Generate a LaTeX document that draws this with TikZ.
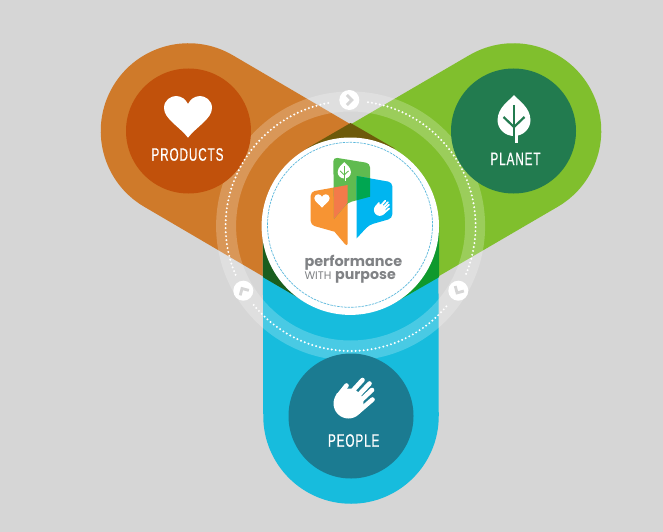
\documentclass[tikz,border=0pt]{standalone}
\usepackage{fontspec}
\newfontfamily\labelfont[FakeStretch=0.65,LetterSpace=5,FakeBold=0.6]{Liberation Sans}
\newfontfamily\logofont{Poppins}
\usetikzlibrary{calc}

\definecolor{canvasgray}{HTML}{D6D6D6}
\definecolor{prodband}{HTML}{CF7A2A}
\definecolor{prodcore}{HTML}{C1510B}
\definecolor{planband}{HTML}{80BF2D}
\definecolor{plancore}{HTML}{227B4F}
\definecolor{peopband}{HTML}{17BCDD}
\definecolor{peopcore}{HTML}{1B7B91}
\definecolor{olivewedge}{HTML}{6D5A0A}
\definecolor{leftwedge}{HTML}{1A5E1E}
\definecolor{rightwedge}{HTML}{0F992D}
\definecolor{logogray}{HTML}{808285}
\definecolor{logoorange}{HTML}{F79433}
\definecolor{logogreen}{HTML}{60BB50}
\definecolor{logoblue}{HTML}{00B5F0}
\definecolor{logored}{HTML}{F37A4A}
\definecolor{logoteal}{HTML}{00A651}
\definecolor{dashblue}{HTML}{5BB8DC}

\tikzset{
  band/.style={line width=175.5pt, line cap=round},
  ringdots/.style={white, line width=2.2pt, line cap=round, dash pattern=on 0pt off 4pt},
  iconline/.style={line cap=round},
  capslabel/.style={text=white, anchor=base, inner sep=0pt, font=\labelfont\fontsize{18}{18}\selectfont},
  logotext/.style={text=logogray, anchor=base west, inner sep=0pt, text depth=0pt},
  bubble/.style={rounded corners=4pt}
}

\newcommand{\heartmark}[3]{%
  \fill[white, shift={(#1,#2)}, scale=#3] (0,20.7)
    .. controls (-8,10) and (-24,2) .. (-24,-9)
    .. controls (-24,-17) and (-17,-21) .. (-12,-21)
    .. controls (-6,-21) and (-2,-17) .. (0,-13)
    .. controls (2,-17) and (6,-21) .. (12,-21)
    .. controls (17,-21) and (24,-17) .. (24,-9)
    .. controls (24,2) and (8,10) .. (0,20.7) -- cycle;
}
\newcommand{\leafmark}[4]{%
  \begin{scope}[shift={(#1,#2)}, scale=#3]
    \fill[white] (0,-24)
      .. controls (5,-18) and (16,-12) .. (16.5,1)
      .. controls (16.5,10) and (9,17) .. (0,17)
      .. controls (-9,17) and (-16.5,10) .. (-16.5,1)
      .. controls (-16,-12) and (-5,-18) .. (0,-24) -- cycle;
    \draw[white, line width=#3*3pt] (2.5,15) -- (2.5,24);
    \draw[#4, line width=#3*2.2pt] (0,-14) -- (0,17);
    \draw[#4, line width=#3*2.2pt] (-10.5,-2) -- (0,8) -- (10.5,-2);
  \end{scope}
}
\newcommand{\handmark}[3]{%
  \begin{scope}[shift={(#1,#2)}, scale=#3]
    \fill[white] (-6.5,8.5) circle[radius=15];
    \fill[white] (-21,6) -- (-18,-2) -- (-6,0) -- (5,8) -- (6,16) -- (2,20) -- cycle;
    \draw[white, iconline, line width=#3*4.6pt] (-16,0) -- (-8.5,-9.5);
    \draw[white, iconline, line width=#3*4.6pt] (-8,2) -- (7.5,-15);
    \draw[white, iconline, line width=#3*4.6pt] (-2,6) -- (14.5,-11.5);
    \draw[white, iconline, line width=#3*4.6pt] (1,10) -- (17,-5);
    \draw[white, iconline, line width=#3*4.6pt] (3,17) -- (17.5,4.5);
  \end{scope}
}
\newcommand{\chevronmark}[3]{%
  \draw[canvasgray, line width=2.8pt, shift={(#1,#2)}, rotate=#3] (-2.5,-5) -- (2.5,0) -- (-2.5,5);
}

\begin{document}
\begin{tikzpicture}[x=1pt,y=-1pt]

        % Canvas
        \fill[canvasgray] (0,0) rectangle (663,532);
        \useasboundingbox (0,0) rectangle (663,532);

        % Centres
        \coordinate (hub) at (350.6,226);
        \coordinate (prodhub) at (188.5,131);
        \coordinate (planhub) at (513.5,131);
        \coordinate (peophub) at (351,416);

        % Bands
        \draw[band, prodband] (prodhub) -- (hub);
        \draw[band, planband] (planhub) -- (hub);
        \draw[band, peopband] (peophub) -- (hub);

        % Overlaps
        \fill[olivewedge] (350.6,123) -- (306.4,148.6) -- (394.8,148.6) -- cycle;
        \fill[leftwedge] (263,277.2) -- (263,226) -- (306.7,302.7) -- cycle;
        \fill[rightwedge] (439,277.2) -- (439,226) -- (394.8,302.7) -- cycle;

        % Ring
        \draw[white, opacity=0.22, line width=20pt] (hub) circle[radius=124.5];

        % Core circles
        \fill[prodcore] (prodhub) circle[radius=62.5];
        \fill[plancore] (planhub) circle[radius=62.5];
        \fill[peopcore] (peophub) circle[radius=62.5];

        % Dots
        \draw[ringdots] ($(hub)+(-82:125)$) arc[start angle=-82, end angle=24, radius=125];
        \draw[ringdots] ($(hub)+(40:125)$) arc[start angle=40, end angle=142, radius=125];
        \draw[ringdots] ($(hub)+(157:125)$) arc[start angle=157, end angle=261, radius=125];

        % Turn marks
        \foreach \px/\py/\turn in {349.3/100/0, 458.3/290.7/-120, 243.3/290.7/-240}
        {
          \fill[white] (\px,\py) circle[radius=10];
          \chevronmark{\px}{\py}{\turn}
        }

        % Band icons and labels
        \heartmark{188}{117}{1}
        \leafmark{514}{119}{1}{plancore}
        \handmark{355}{395}{1}
        \node[capslabel] (prodlabel) at (187.5,160.7) {PRODUCTS};
        \node[capslabel] (planlabel) at (515.5,165) {PLANET};
        \node[capslabel] (peoplabel) at (353.7,446.7) {PEOPLE};

        % Logo disc
        \fill[white] (350.3,226.2) circle[radius=88.7];
        \draw[dashblue, line width=0.7pt, dash pattern=on 2.5pt off 1pt] (350,224.8) circle[radius=82.5];

        % Logo bubbles
        \fill[logoorange, bubble] (310.7,191.7) -- (347.7,185) -- (347.7,247.3) [sharp corners] -- (334.5,231.7) [rounded corners=4pt] -- (310.7,225) -- cycle;
        \fill[logogreen, bubble] (333.3,157.3) -- (370,163.3) -- (370,196.7) -- (347.7,202.7) [sharp corners] -- (334,219) [rounded corners=4pt] -- cycle;
        \fill[logoblue, bubble] (356.7,176) -- (392.3,182.3) -- (392.3,218.3) -- (369,225) [sharp corners] -- (356.7,238.3) [rounded corners=4pt] -- cycle;
        \begin{scope}
          \clip (333.3,157.3) -- (370,163.3) -- (370,196.7) -- (347.7,202.7) -- (334,219) -- cycle;
          \fill[logored] (310.7,191.7) -- (347.7,185) -- (347.7,247.3) -- (310.7,225) -- cycle;
          \fill[logoteal] (356.7,176) -- (392.3,182.3) -- (392.3,218.3) -- (356.7,238.3) -- cycle;
        \end{scope}
        \heartmark{322}{201}{0.32}
        \leafmark{344.3}{171.7}{0.4}{logogreen}
        \handmark{382.3}{206.7}{0.39}

        % Logo text
        \node[logotext, font=\logofont\bfseries\fontsize{14.4}{15}\selectfont] (logotop) at (304.3,266.5) {performance};
        \node[logotext, font=\logofont\fontsize{11}{11}\selectfont] (logowith) at (304.3,279) {WITH};
        \node[logotext, font=\logofont\bfseries\fontsize{14.2}{15}\selectfont] (logopurpose) at (335,279) {purpose};

\end{tikzpicture}
\end{document}
